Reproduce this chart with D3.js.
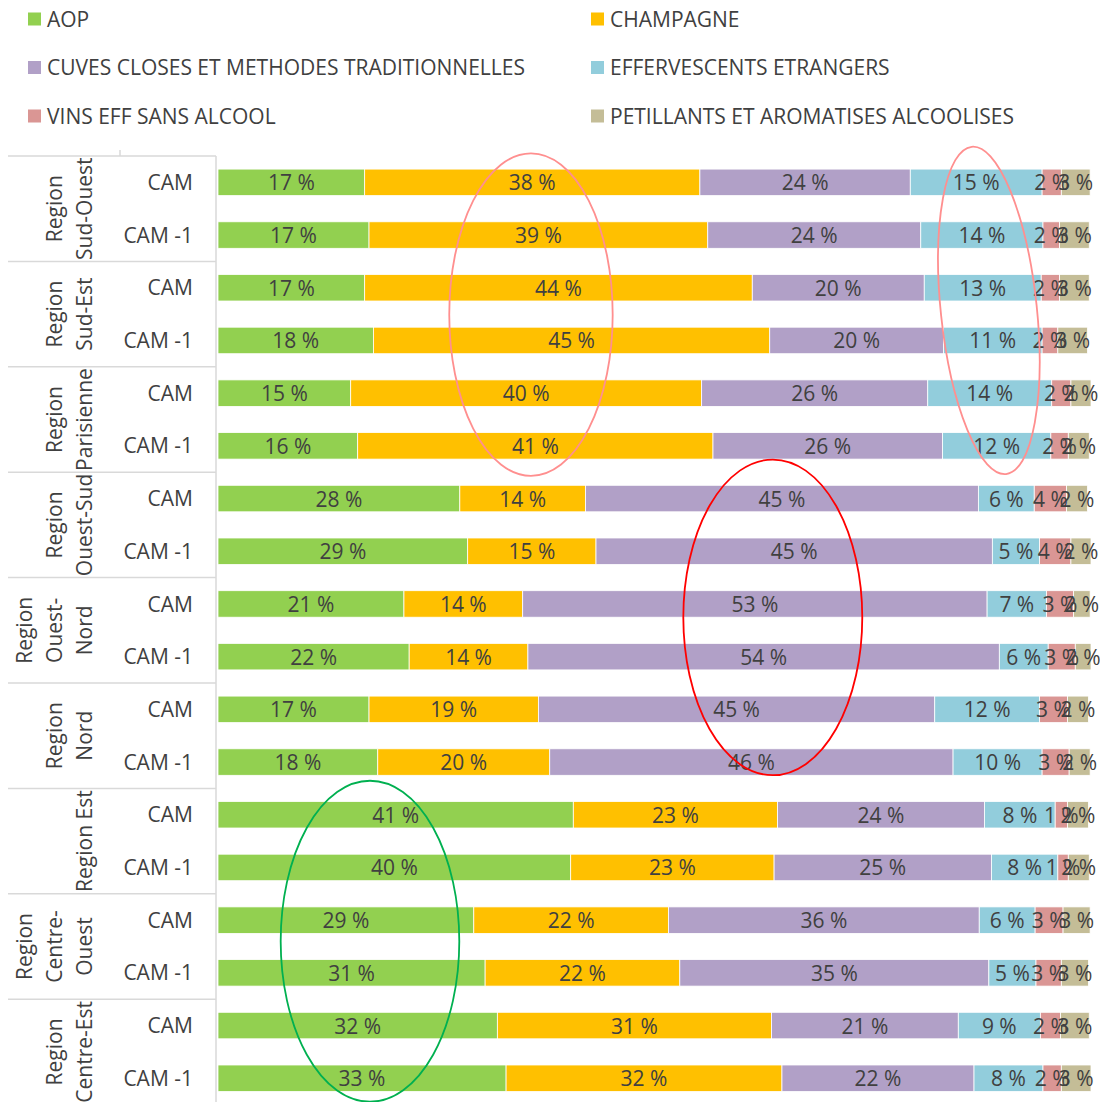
<!DOCTYPE html>
<html>
<head>
<meta charset="utf-8">
<script src="https://cdn.jsdelivr.net/npm/d3@7"></script>
<style>
  html, body { margin: 0; padding: 0; background: #fff; }
  svg { display: block; }
</style>
</head>
<body>
<svg id="chart" width="1100" height="1102"></svg>
<script>
// ---------------- DATA ----------------
const series = ["AOP", "CHAMPAGNE", "CUVES CLOSES ET METHODES TRADITIONNELLES",
  "EFFERVESCENTS ETRANGERS", "VINS EFF SANS ALCOOL", "PETILLANTS ET AROMATISES ALCOOLISES"];
const seriesColors = ["#92D050", "#FFC000", "#B1A0C7", "#92CDDC", "#DA9694", "#C4BD97"];

const regions = ["Region Sud-Ouest", "Region Sud-Est", "Region Parisienne", "Region Ouest-Sud",
  "Region Ouest-Nord", "Region Nord", "Region Est", "Region Centre-Ouest", "Region Centre-Est"];
const regionLines = [["Region", "Sud-Ouest"], ["Region", "Sud-Est"], ["Region", "Parisienne"],
  ["Region", "Ouest-Sud"], ["Region", "Ouest-", "Nord"], ["Region", "Nord"], ["Region Est"],
  ["Region", "Centre-", "Ouest"], ["Region", "Centre-Est"]];
const periods = ["CAM", "CAM -1"];

// values in %, one row per region x period, columns follow `series`
const aop        = [16.8, 17.3, 16.8, 17.8, 15.2, 16.0, 27.7, 28.6, 21.3, 21.9, 17.3, 18.3, 40.7, 40.4, 29.3, 30.6, 32.0, 33.0];
const champagne  = [38.4, 38.8, 44.4, 45.4, 40.2, 40.7, 14.4, 14.7, 13.6, 13.6, 19.4, 19.7, 23.4, 23.3, 22.3, 22.3, 31.4, 31.6];
const cuves      = [24.1, 24.4, 19.7, 19.9, 25.9, 26.3, 45.0, 45.4, 53.2, 54.0, 45.4, 46.2, 23.7, 24.9, 35.6, 35.4, 21.4, 22.0];
const etrangers  = [15.1, 14.0, 13.4, 11.3, 14.2, 12.4,  6.4,  5.4,  6.8,  5.6, 12.0, 10.2,  8.1,  7.6,  6.4,  5.4,  9.4,  7.9];
const sansAlcool = [ 2.2,  1.9,  2.1,  1.8,  2.2,  2.0,  3.7,  3.6,  3.1,  3.1,  3.2,  3.1,  1.4,  1.2,  3.2,  2.9,  2.3,  2.1];
const petillants = [ 3.3,  3.4,  3.4,  3.4,  2.3,  2.4,  2.4,  2.3,  1.9,  1.8,  2.4,  2.4,  2.4,  2.4,  3.1,  3.1,  3.3,  3.4];
const valueColumns = [aop, champagne, cuves, etrangers, sansAlcool, petillants];

// hand-drawn annotation ellipses (centre and half-width in % units, vertical extent in row units)
const ellipseColors = ["#FF8F8F", "#FF8F8F", "#FF0000", "#00B050"];
const ellipseCx     = [35.85, 88.3, 63.55, 17.41];
const ellipseRx     = [9.36, 5.5, 10.25, 10.23];
const ellipseRowTop = [-0.55, -0.675, 5.26, 11.355];
const ellipseRowBot = [5.57, 5.535, 11.25, 17.446];
const ellipseAngle  = [0, -6, 0, 0];

// ---------------- LAYOUT ----------------
const FONT = "'Open Sans', sans-serif";
const FS = 21;
const textColor = "#404040";
const axisColor = "#D9D9D9";

const svg = d3.select("#chart");
const plotLeft = 218, plotRight = 1091, plotTop = 156, step = 52.7;

const rows = [];
regions.forEach((r, i) => periods.forEach((p, j) => rows.push({ region: r, period: p, ri: i, idx: i * 2 + j })));

const x = d3.scaleLinear().domain([0, 100]).range([plotLeft, plotRight]);
const y = d3.scaleBand().domain(rows.map(d => d.idx)).range([plotTop, plotTop + step * rows.length])
  .paddingInner(0.497).paddingOuter(0.2485);
const rowCenter = i => plotTop + step * (i + 0.5);

// ---------------- LEGEND ----------------
const legend = svg.append("g").attr("font-family", FONT).attr("font-size", FS).attr("fill", textColor);
series.forEach((s, i) => {
  const col = i % 2, row = Math.floor(i / 2);
  const lx = col === 0 ? 28 : 591;
  const ly = 19 + row * 48.5;
  legend.append("rect").attr("x", lx).attr("y", ly - 6.5).attr("width", 13).attr("height", 13).attr("fill", seriesColors[i]);
  legend.append("text").attr("x", lx + 19).attr("y", ly).attr("dy", "0.36em").text(s);
});

// ---------------- STACKED BARS ----------------
const table = rows.map(r => {
  const o = { idx: r.idx };
  series.forEach((s, k) => o[s] = valueColumns[k][r.idx]);
  return o;
});
const stack = d3.stack().keys(series)(table);

const fmt = v => d3.format(".0f")(v) + " %";

const barG = svg.append("g");
stack.forEach((layer, k) => {
  barG.append("g").attr("fill", seriesColors[k])
    .selectAll("rect").data(layer).join("rect")
    .attr("x", d => x(d[0]))
    .attr("y", d => y(d.data.idx))
    .attr("width", d => x(d[1]) - x(d[0]))
    .attr("height", y.bandwidth())
    .attr("stroke", "#fff").attr("stroke-width", 0.8);
});
const labG = svg.append("g").attr("font-family", FONT).attr("font-size", FS).attr("fill", textColor)
  .attr("text-anchor", "middle");
stack.forEach((layer, k) => {
  labG.append("g").selectAll("text").data(layer).join("text")
    .attr("x", d => (x(d[0]) + x(d[1])) / 2)
    .attr("y", d => y(d.data.idx) + y.bandwidth() / 2)
    .attr("dy", "0.38em")
    .text(d => fmt(d[1] - d[0]));
});

// ---------------- CATEGORY AXIS (multi-level) ----------------
const axG = svg.append("g");
axG.append("line").attr("x1", 216).attr("x2", 216).attr("y1", plotTop).attr("y2", 1102)
  .attr("stroke", axisColor).attr("stroke-width", 1.5);
regions.forEach((r, i) => {
  const yy = plotTop + step * 2 * i;
  axG.append("line").attr("x1", 8).attr("x2", 216).attr("y1", yy).attr("y2", yy)
    .attr("stroke", axisColor).attr("stroke-width", 1.5);
});
axG.append("line").attr("x1", 120).attr("x2", 120).attr("y1", plotTop - 6).attr("y2", plotTop)
  .attr("stroke", axisColor).attr("stroke-width", 1.5);

const catG = svg.append("g").attr("font-family", FONT).attr("font-size", FS).attr("fill", textColor);
catG.selectAll("text.period").data(rows).join("text").attr("class", "period")
  .attr("x", 193).attr("y", d => y(d.idx) + y.bandwidth() / 2).attr("dy", "0.36em")
  .attr("text-anchor", "end").text(d => d.period);

regions.forEach((r, i) => {
  const lines = regionLines[i];
  const cy = plotTop + step * (2 * i + 1);
  lines.forEach((ln, j) => {
    const bx = 91.5 - 30 * (lines.length - 1 - j);
    catG.append("text").attr("transform", `translate(${bx},${cy}) rotate(-90)`)
      .attr("text-anchor", "middle").text(ln);
  });
});

// ---------------- ANNOTATION ELLIPSES ----------------
const annG = svg.append("g").attr("fill", "none");
ellipseColors.forEach((c, i) => {
  const top = rowCenter(ellipseRowTop[i]), bot = rowCenter(ellipseRowBot[i]);
  const cx = x(ellipseCx[i]), cy = (top + bot) / 2;
  const rx = x(ellipseRx[i]) - x(0);
  const ryy = (bot - top) / 2 / Math.cos(ellipseAngle[i] * Math.PI / 180);
  annG.append("ellipse").attr("cx", 0).attr("cy", 0).attr("rx", rx).attr("ry", ryy)
    .attr("transform", `translate(${cx},${cy}) rotate(${ellipseAngle[i]})`)
    .attr("stroke", c).attr("stroke-width", 1.8);
});
</script>
</body>
</html>
